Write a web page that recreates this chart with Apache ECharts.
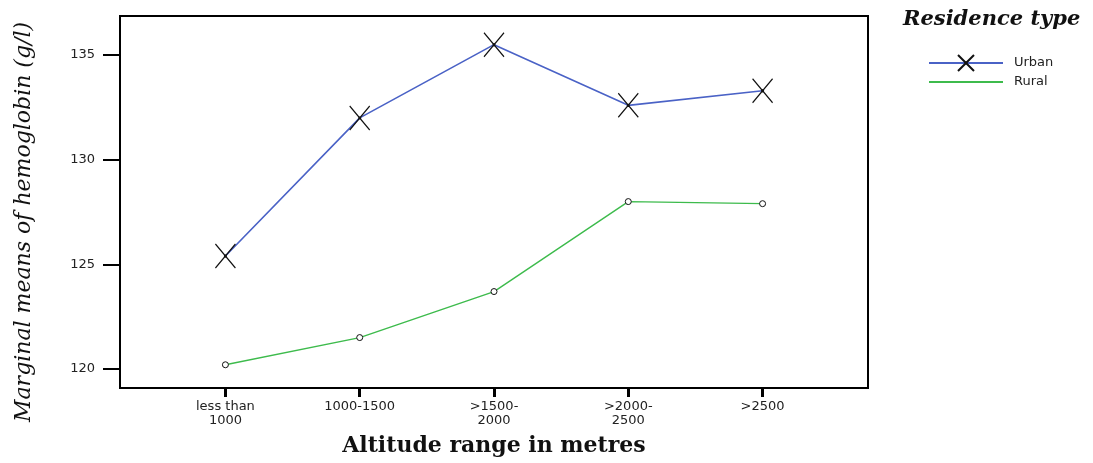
<!DOCTYPE html>
<html>
<head>
<meta charset="utf-8">
<script src="https://cdn.jsdelivr.net/npm/echarts@6/dist/echarts.min.js"></script>
<style>
  html, body { margin: 0; padding: 0; background: #fff; }
  #chart { width: 1093px; height: 463px; }
</style>
</head>
<body>
<div id="chart"></div>
<script>
// altitude groups (x) and marginal means
const categories = ['less than\n1000', '1000-1500', '>1500-\n2000', '>2000-\n2500', '>2500'];
const urbanMeans = [125.4, 132.0, 135.5, 132.6, 133.3];
const ruralMeans = [120.2, 121.5, 123.7, 128.0, 127.9];
const yTicks = [120, 125, 130, 135];
const xTicks = [0, 1, 2, 3, 4];

const chart = echarts.init(document.getElementById('chart'));

// x marker with a little dot in the middle, like the spss asterisk
const crossMark = 'path://M0,0L20,24M20,0L0,24M9,12a1,1 0 1,0 2,0a1,1 0 1,0 -2,0';

const toPairs = (vals) => vals.map((v, i) => [i, v]);

const option = {
  animation: false,
  grid: {
    left: 120,
    top: 16,
    right: 225,
    bottom: 75,
    show: true,
    borderColor: '#000',
    borderWidth: 2,
  },
  title: {
    text: 'Residence type',
    left: 903,
    top: 9,
    padding: 0,
    textStyle: {
      fontFamily: 'DejaVu Serif',
      fontStyle: 'italic',
      fontWeight: 'bold',
      fontSize: 21,
      color: '#111',
    },
  },
  legend: {
    orient: 'vertical',
    left: 928,
    top: 54,
    itemWidth: 74,
    itemHeight: 20,
    itemGap: 1,
    padding: 0,
    textStyle: {
      fontFamily: 'DejaVu Sans',
      fontSize: 13,
      color: '#222',
      padding: [0, 0, 0, 6],
    },
    data: [
      { name: 'Urban' },
      { name: 'Rural', itemStyle: { opacity: 0 } },
    ],
  },
  graphic: [
    {
      type: 'text',
      // rotated y title, sits a bit below the plot centre in the original
      x: 24,
      y: 222,
      rotation: Math.PI / 2,
      style: {
        text: 'Marginal means of hemoglobin (g/l)',
        fontFamily: 'DejaVu Serif',
        fontStyle: 'italic',
        fontSize: 22,
        fill: '#111',
        align: 'center',
        verticalAlign: 'middle',
      },
    },
  ],
  xAxis: {
    type: 'value',
    min: -0.785,
    max: 4.785,
    splitLine: { show: false },
    axisLine: { show: true, onZero: false, lineStyle: { color: '#000', width: 2 } },
    axisTick: {
      show: true,
      length: 9,
      customValues: xTicks,
      lineStyle: { color: '#000', width: 3 },
    },
    axisLabel: {
      customValues: xTicks,
      margin: 12,
      fontFamily: 'DejaVu Sans',
      fontSize: 13,
      lineHeight: 14,
      color: '#222',
      formatter: (v) => categories[Math.round(v)],
    },
    name: 'Altitude range in metres',
    nameLocation: 'middle',
    nameGap: 47,
    nameTextStyle: {
      fontFamily: 'DejaVu Serif',
      fontWeight: 'bold',
      fontSize: 22,
      color: '#111',
    },
  },
  yAxis: {
    type: 'value',
    min: 119.09,
    max: 136.87,
    splitLine: { show: false },
    axisLine: { show: true, onZero: false, lineStyle: { color: '#000', width: 2 } },
    axisTick: {
      show: true,
      length: 17,
      customValues: yTicks,
      lineStyle: { color: '#000', width: 2 },
    },
    axisLabel: {
      customValues: yTicks,
      margin: 25,
      fontFamily: 'DejaVu Sans',
      fontSize: 13,
      color: '#222',
    },
  },
  series: [
    {
      name: 'Urban',
      type: 'line',
      data: toPairs(urbanMeans),
      symbol: crossMark,
      symbolSize: [20, 24],
      lineStyle: { color: '#4a62c6', width: 1.6 },
      itemStyle: { color: 'rgba(0,0,0,0)', borderColor: '#111', borderWidth: 1.3 },
      z: 3,
    },
    {
      name: 'Rural',
      type: 'line',
      data: toPairs(ruralMeans),
      symbol: 'circle',
      symbolSize: 6,
      lineStyle: { color: '#3dbb4c', width: 1.4 },
      itemStyle: { color: '#fff', borderColor: '#111', borderWidth: 1 },
      z: 2,
    },
  ],
};

chart.setOption(option);
</script>
</body>
</html>
